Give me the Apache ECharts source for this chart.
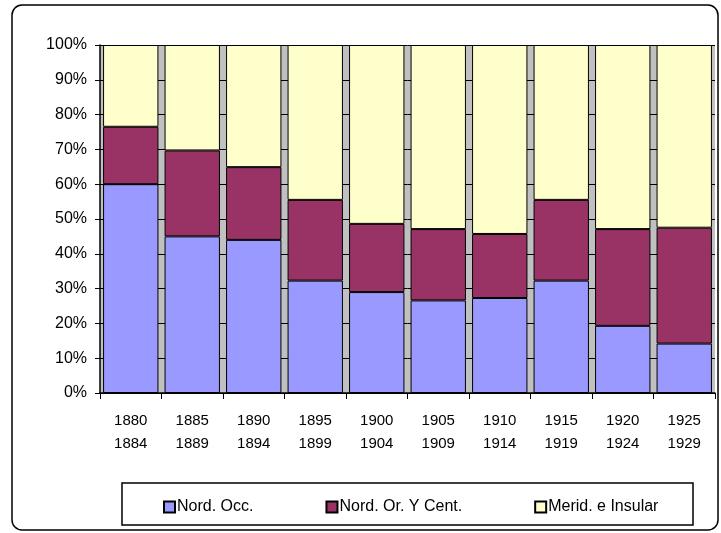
<!DOCTYPE html>
<html lang="es">
<head>
    <meta charset="UTF-8">
    <title>Distribución por regiones</title>
    <script src="https://cdn.jsdelivr.net/npm/echarts@6/dist/echarts.min.js"></script>
    <style>
        html, body { margin: 0; padding: 0; background: #fff; }
        #chart { width: 721px; height: 533px; }
    </style>
</head>
<body>
<div id="chart"></div>
<script>
    // periodos quinquenales (dos lineas por etiqueta)
    var periodos = ['1880\n1884', '1885\n1889', '1890\n1894', '1895\n1899', '1900\n1904',
        '1905\n1909', '1910\n1914', '1915\n1919', '1920\n1924', '1925\n1929']
    // porcentajes de cada region
    var nordOcc = [60, 45, 44, 32.3, 29, 26.6, 27.3, 32.3, 19.3, 14.2]
    var nordOrCent = [16.5, 24.7, 20.9, 23.2, 19.6, 20.5, 18.4, 23.2, 27.8, 33.3]
    var meridInsular = [23.5, 30.3, 35.1, 44.5, 51.4, 52.9, 54.3, 44.5, 52.9, 52.5]

    var nombres = ['Nord. Occ.', 'Nord. Or. Y Cent.', 'Merid. e Insular']
    var colores = ['#9999ff', '#993366', '#ffffcc']

    var chart = echarts.init(document.getElementById('chart'))

    function serie(i, datos) {
        return {
            name: nombres[i],
            type: 'bar',
            stack: 'total',
            data: datos,
            barCategoryGap: '10%',
            itemStyle: { color: colores[i], borderColor: '#000', borderWidth: 1 },
            emphasis: { disabled: true }
        }
    }

    var option = {
        animation: false,
        textStyle: { fontFamily: 'Liberation Sans, Arial, sans-serif' },
        graphic: [{
            type: 'rect',
            shape: { x: 12, y: 5, width: 706, height: 525, r: 10 },
            style: { fill: 'none', stroke: '#000', lineWidth: 1.5 },
            z: -10
        }, {
            type: 'rect',
            shape: { x: 122, y: 483, width: 571, height: 42 },
            style: { fill: '#fff', stroke: '#000', lineWidth: 1.5 },
            z: -5
        }],
        grid: {
            left: 100, right: 6, top: 45, bottom: 140,
            show: true, backgroundColor: '#c0c0c0', borderWidth: 0
        },
        legend: {
            data: nombres,
            left: 158, top: 494,
            itemGap: 72, itemWidth: 11, itemHeight: 11,
            icon: 'rect',
            textStyle: { fontSize: 16, color: '#000', fontFamily: 'Liberation Sans, Arial, sans-serif', padding: [0, 0, 0, -3] },
            selectedMode: false
        },
        xAxis: {
            type: 'category',
            data: periodos,
            axisLine: { lineStyle: { color: '#000', width: 1.5 } },
            axisTick: { show: true, length: 6, lineStyle: { color: '#000' } },
            axisLabel: {
                color: '#000', fontSize: 15, lineHeight: 23, margin: 16,
                fontFamily: 'Liberation Sans Narrow, Arial Narrow, Liberation Sans, sans-serif'
            }
        },
        yAxis: {
            type: 'value',
            min: 0, max: 100, interval: 10,
            axisLine: { show: true, lineStyle: { color: '#000', width: 1.5 } },
            axisTick: { show: true, length: 5, lineStyle: { color: '#000' } },
            axisLabel: { color: '#000', fontSize: 16, margin: 13, formatter: '{value}%' },
            splitLine: { show: true, lineStyle: { color: '#000', width: 1 } }
        },
        series: [serie(0, nordOcc), serie(1, nordOrCent), serie(2, meridInsular)]
    }
    chart.setOption(option)
</script>
</body>
</html>
